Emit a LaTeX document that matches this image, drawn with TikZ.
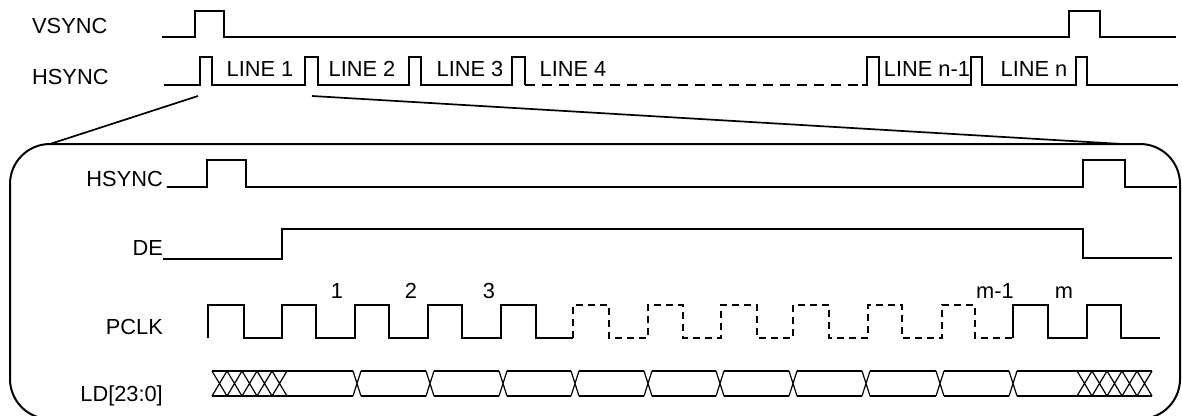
\documentclass[tikz,border=0pt]{standalone}
\usepackage{fontspec}
\setmainfont{Liberation Sans}
\usepackage{tikz}

\tikzset{
  sig/.style={line width=2pt, line join=miter},
  dsig/.style={sig, dash pattern=on 7pt off 5pt},
  lbl/.style={inner sep=0pt, anchor=base west},
  rlbl/.style={inner sep=0pt, anchor=base east},
  tag/.style={inner sep=0pt, anchor=base},
}

\begin{document}
\begin{tikzpicture}[x=1pt,y=-1pt,font=\fontsize{21.8}{26}\selectfont]
  \useasboundingbox (0,0) rectangle (1182,415);

  % frame signals
  \draw (32,33.5)node[lbl](vs){VSYNC};
  \draw (32,84)node[lbl](hs){HSYNC};
  \draw[sig] (162,37) -- (195,37) -- (195,11) -- (224,11) -- (224,37) -- (1069,37)
    -- (1069,11) -- (1100,11) -- (1100,37) -- (1176,37);
  \draw[sig] (164,85) -- (200,85) -- (200,57) -- (212,57) -- (212,85) -- (305,85)
    -- (305,57) -- (318,57) -- (318,85) -- (409,85) -- (409,57) -- (421,57) -- (421,85)
    -- (512,85) -- (512,57) -- (525,57) -- (525,85);
  \draw[sig, dash pattern=on 10pt off 7pt] (525,85) -- (867,85);
  \draw[sig] (862,85) -- (867,85) -- (867,57) -- (879,57) -- (879,85) -- (971,85)
    -- (971,57) -- (982,57) -- (982,85) -- (1076,85) -- (1076,57) -- (1087,57)
    -- (1087,85) -- (1178,85);
  \draw (260,76)node[tag](l1){LINE 1};
  \draw (362,76)node[tag](l2){LINE 2};
  \draw (470,76)node[tag](l3){LINE 3};
  \draw (573,76)node[tag](l4){LINE 4};
  \draw (927,76)node[tag](ln1){LINE n-1};
  \draw (1034,76)node[tag](ln){LINE n};

  % zoom window
  \coordinate (zs) at (198,96);
  \coordinate (ze) at (312,96);
  \coordinate (bl) at (50,144);
  \coordinate (br) at (1122,144);
  \draw[line width=1.7pt] (zs) -- (bl);
  \draw[line width=1.7pt] (ze) -- (br);
  \draw[sig, rounded corners=40pt] (10,144) rectangle (1180,419);

  % line signals
  \draw (163,186)node[rlbl](hs2){HSYNC};
  \draw (163,255)node[rlbl](de){DE};
  \draw (163,334)node[rlbl](pclk){PCLK};
  \draw (163,401)node[rlbl](ld){LD[23:0]};
  \draw[sig] (167,187) -- (207,187) -- (207,160) -- (246,160) -- (246,187) -- (1083,187)
    -- (1083,160) -- (1125,160) -- (1125,187) -- (1177,187);
  \draw[sig] (163,259) -- (282,259) -- (282,229) -- (1083,229) -- (1083,258) -- (1172,258);

  \draw[sig] (208,338) -- (208,305) -- (244,305) -- (244,338) -- (282,338) -- (282,305)
    -- (316,305) -- (316,338) -- (355,338) -- (355,305) -- (389,305) -- (389,338)
    -- (428,338) -- (428,305) -- (462,305) -- (462,338) -- (501,338) -- (501,305)
    -- (536,305) -- (536,338) -- (573,338);
  \draw[dsig] (573,338) -- (573,305) -- (609,305) -- (609,338) -- (648,338) -- (648,305)
    -- (683,305) -- (683,338) -- (721,338) -- (721,305) -- (757,305) -- (757,338)
    -- (793,338) -- (793,305) -- (829,305) -- (829,338) -- (868,338) -- (868,305)
    -- (902,305) -- (902,338) -- (942,338) -- (942,305) -- (975,305) -- (975,338)
    -- (1013,338);
  \draw[sig] (1013,338) -- (1013,305) -- (1048,305) -- (1048,338) -- (1087,338)
    -- (1087,305) -- (1121,305) -- (1121,338) -- (1160,338);
  \draw (337,298)node[tag](c1){1};
  \draw (411,298)node[tag](c2){2};
  \draw (489,298)node[tag](c3){3};
  \draw (995,298)node[tag](cm1){m-1};
  \draw (1064,298)node[tag](cm){m};

  % data bus
  \draw[sig] (212,371) -- (287,371) (212,396) -- (287,396);
  \draw[sig] (1077,371) -- (1152,371) (1077,396) -- (1152,396);
  \foreach \k in {0,...,4}{
    \draw[line width=1.2pt] ({212+15*\k},371) -- ({227+15*\k},396) ({212+15*\k},396) -- ({227+15*\k},371);
    \draw[line width=1.2pt] ({1077+15*\k},371) -- ({1092+15*\k},396) ({1077+15*\k},396) -- ({1092+15*\k},371);
  }
  \foreach \a/\b in {287/353,361/426,434/499,507/571,579/644,652/716,724/789,797/862,870/936,944/1009,1017/1077}
    \draw[sig] (\a,371) -- (\b,371) (\a,396) -- (\b,396);
  \foreach \t in {357,430,503,575,648,720,793,866,940,1013}
    \draw[line width=1.2pt] (\t-4,371) -- (\t+4,396) (\t-4,396) -- (\t+4,371);
\end{tikzpicture}
\end{document}
